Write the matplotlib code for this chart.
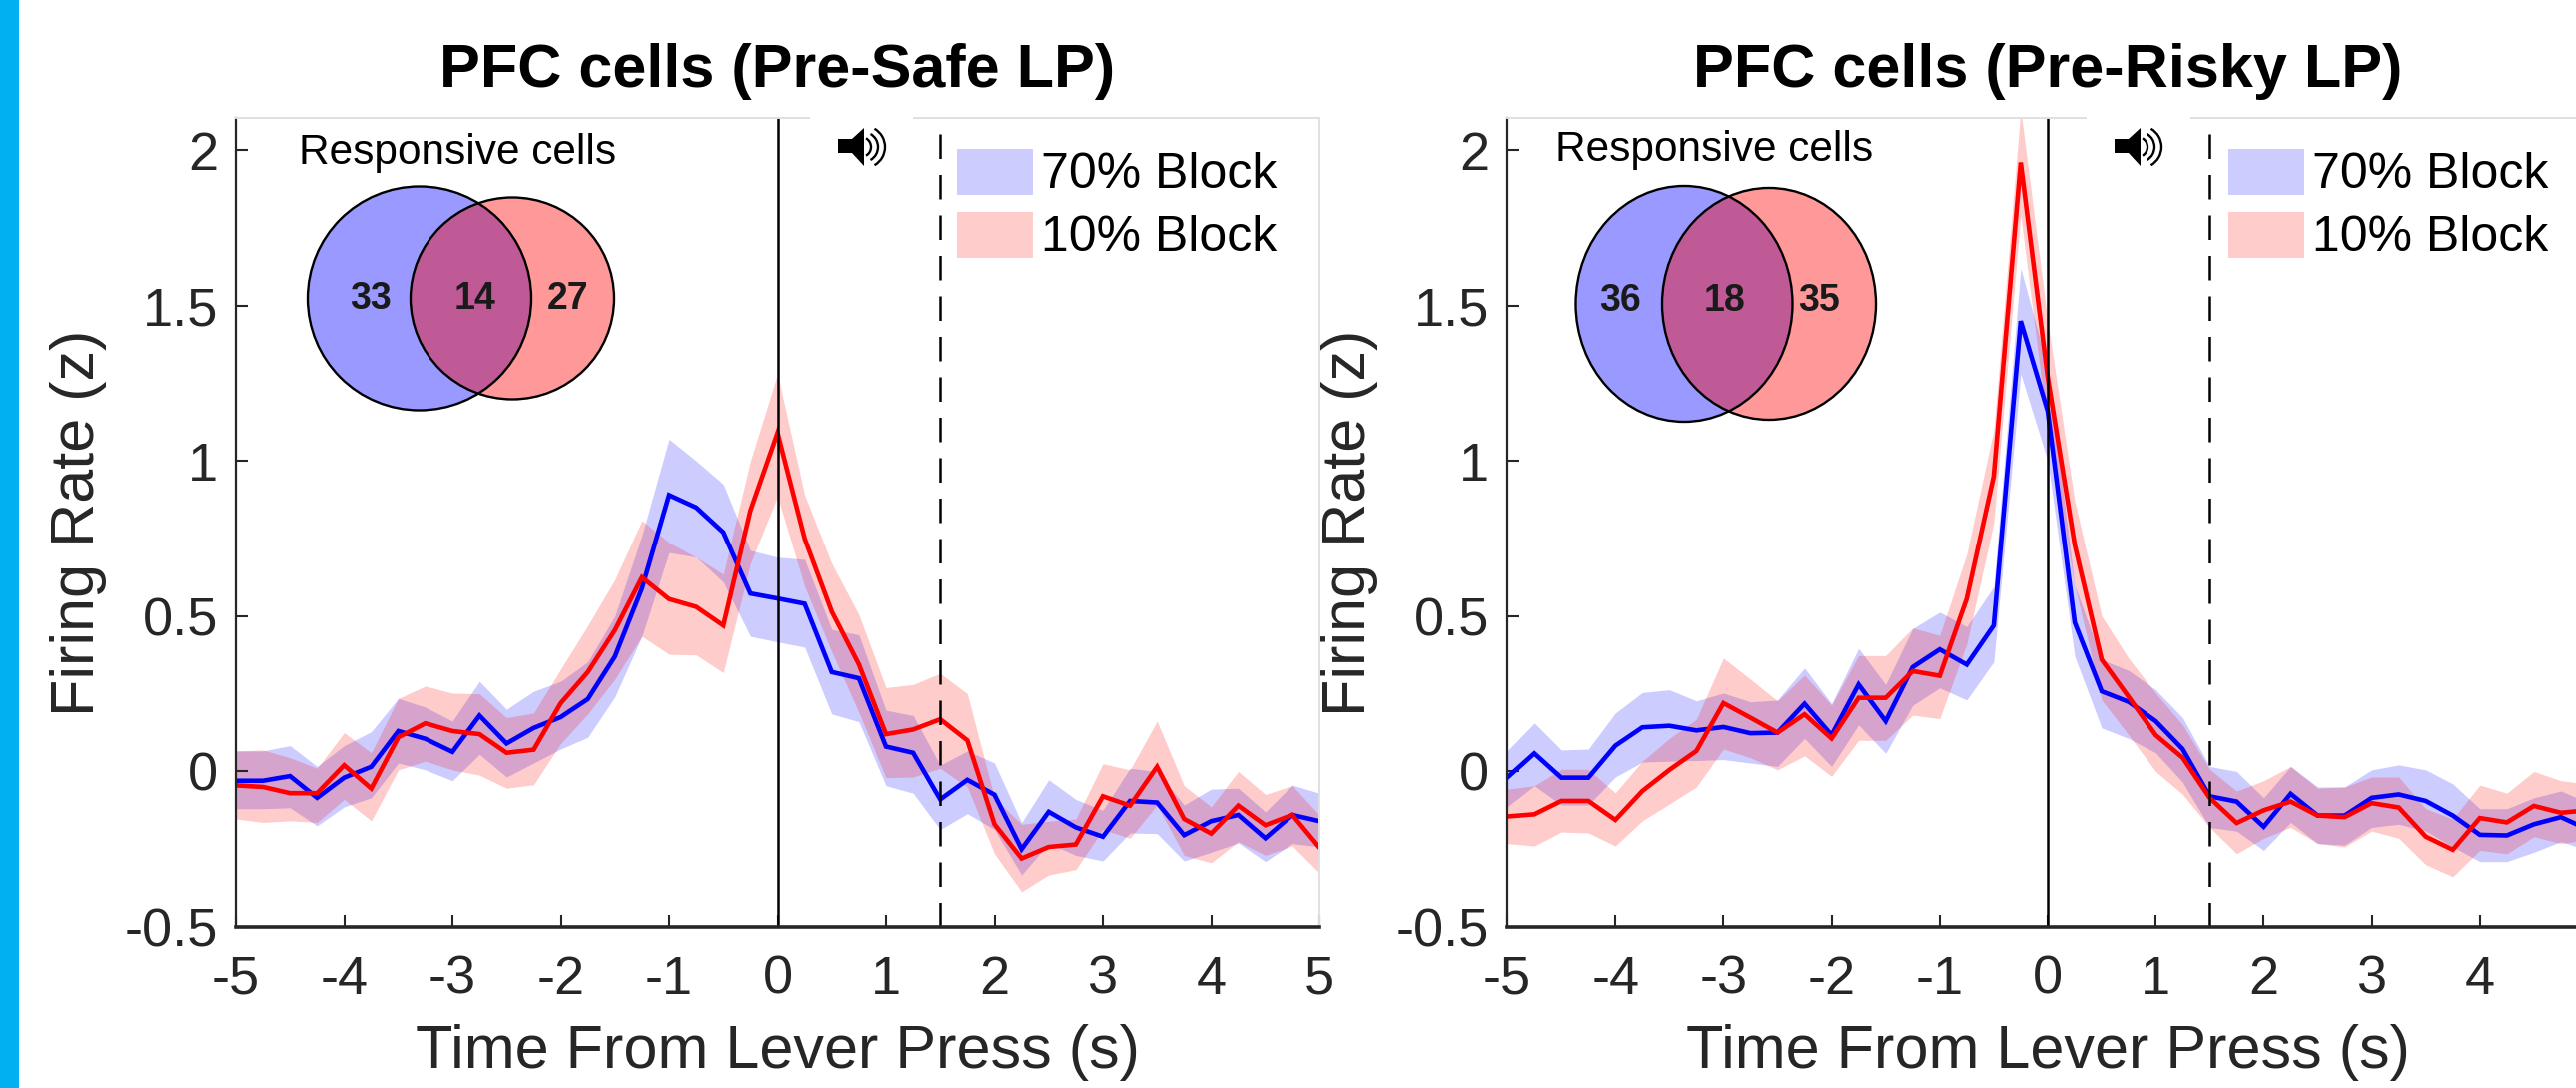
import numpy as np
import matplotlib
matplotlib.use('Agg')
import matplotlib.pyplot as plt
from matplotlib.patches import Ellipse, Rectangle, Polygon, Arc

plt.rcParams['font.family'] = ['Liberation Sans', 'DejaVu Sans']
plt.rcParams['axes.unicode_minus'] = False

W, H = 2579, 1089
DARK = '#262626'

time = np.arange(41) * 0.25 - 5
yticks = [-0.5, 0, 0.5, 1, 1.5, 2]
ytick_labels = ['-0.5', '0', '0.5', '1', '1.5', '2']
xticks = [-5, -4, -3, -2, -1, 0, 1, 2, 3, 4, 5]
safe_xlabels = ['-5', '-4', '-3', '-2', '-1', '0', '1', '2', '3', '4', '5']
# the last label of the right panel falls off the picture
risky_xlabels = ['-5', '-4', '-3', '-2', '-1', '0', '1', '2', '3', '4', '']
block_labels = ['70% Block', '10% Block']

# left panel, pre-safe
safe_blue = [-0.03, -0.03, -0.015, -0.085, -0.02, 0.015, 0.13, 0.105, 0.063, 0.18, 0.09, 0.14, 0.175, 0.233,
             0.37, 0.59, 0.89, 0.85, 0.77, 0.573, 0.557, 0.54, 0.32, 0.30, 0.08, 0.06, -0.09, -0.027, -0.075,
             -0.25, -0.13, -0.18, -0.21, -0.095, -0.10, -0.205, -0.16, -0.14, -0.215, -0.14, -0.16]
safe_blue_up = [0.066, 0.066, 0.083, 0.016, 0.083, 0.128, 0.235, 0.207, 0.162, 0.29, 0.2, 0.258, 0.29, 0.353,
                0.5, 0.76, 1.07, 1.0, 0.925, 0.712, 0.69, 0.683, 0.457, 0.44, 0.197, 0.18, 0.02, 0.066, 0.027,
                -0.165, -0.027, -0.09, -0.125, 0.01, 0.0, -0.108, -0.057, -0.054, -0.13, -0.044, -0.07]
safe_blue_lo = [-0.12, -0.12, -0.117, -0.175, -0.114, -0.085, 0.027, 0.005, -0.03, 0.055, -0.018, 0.027, 0.072,
                0.11, 0.24, 0.435, 0.705, 0.69, 0.61, 0.435, 0.417, 0.4, 0.185, 0.16, -0.046, -0.07, -0.187,
                -0.136, -0.187, -0.333, -0.232, -0.27, -0.288, -0.198, -0.2, -0.288, -0.26, -0.23, -0.29, -0.232,
                -0.243]
safe_red = [-0.045, -0.05, -0.07, -0.07, 0.02, -0.055, 0.11, 0.155, 0.13, 0.12, 0.06, 0.07, 0.22, 0.32, 0.455,
            0.625, 0.555, 0.53, 0.47, 0.84, 1.09, 0.75, 0.515, 0.345, 0.12, 0.135, 0.168, 0.10, -0.17, -0.28,
            -0.243, -0.235, -0.08, -0.11, 0.015, -0.153, -0.2, -0.11, -0.173, -0.14, -0.245]
safe_red_up = [0.066, 0.069, 0.044, 0.01, 0.125, 0.06, 0.235, 0.275, 0.252, 0.25, 0.173, 0.188, 0.33, 0.47, 0.618,
               0.808, 0.737, 0.69, 0.635, 1.0, 1.28, 0.89, 0.67, 0.505, 0.27, 0.28, 0.316, 0.25, -0.085, -0.17,
               -0.16, -0.153, 0.025, 0.005, 0.162, -0.046, -0.114, 0.0, -0.074, -0.046, -0.14]
safe_red_lo = [-0.153, -0.164, -0.159, -0.164, -0.09, -0.159, 0.005, 0.033, 0.005, -0.012, -0.054, -0.043, 0.09,
               0.185, 0.297, 0.435, 0.377, 0.375, 0.318, 0.67, 0.885, 0.596, 0.385, 0.19, -0.02, -0.018, 0.01,
               -0.05, -0.265, -0.387, -0.333, -0.316, -0.187, -0.215, -0.108, -0.27, -0.294, -0.226, -0.27, -0.24,
               -0.327]

# right panel, pre-risky
risky_blue = [-0.02, 0.058, -0.02, -0.02, 0.083, 0.142, 0.147, 0.132, 0.143, 0.123, 0.125, 0.218, 0.117, 0.28,
              0.162, 0.336, 0.393, 0.344, 0.47, 1.45, 1.16, 0.48, 0.258, 0.224, 0.162, 0.072, -0.08, -0.097,
              -0.178, -0.072, -0.142, -0.142, -0.085, -0.074, -0.095, -0.142, -0.204, -0.206, -0.17, -0.147, -0.187]
risky_blue_up = [0.066, 0.156, 0.069, 0.072, 0.188, 0.254, 0.263, 0.227, 0.252, 0.224, 0.23, 0.333, 0.218, 0.396,
                 0.28, 0.46, 0.513, 0.466, 0.595, 1.62, 1.3, 0.6, 0.36, 0.325, 0.263, 0.173, 0.016, 0.0, -0.085,
                 0.016, -0.05, -0.05, 0.005, 0.021, 0.005, -0.04, -0.12, -0.12, -0.085, -0.063, -0.10]
risky_blue_lo = [-0.114, -0.046, -0.108, -0.108, -0.018, 0.03, 0.033, 0.035, 0.038, 0.027, 0.016, 0.106, 0.016,
                 0.15, 0.058, 0.213, 0.269, 0.23, 0.353, 1.28, 1.0, 0.37, 0.14, 0.106, 0.06, -0.035, -0.18, -0.192,
                 -0.254, -0.164, -0.232, -0.237, -0.18, -0.17, -0.192, -0.243, -0.29, -0.29, -0.26, -0.226, -0.254]
risky_red = [-0.145, -0.138, -0.095, -0.095, -0.156, -0.063, 0.005, 0.066, 0.22, 0.173, 0.125, 0.184, 0.106, 0.237,
             0.237, 0.323, 0.308, 0.556, 0.95, 1.96, 1.27, 0.73, 0.36, 0.24, 0.117, 0.044, -0.085, -0.166, -0.125,
             -0.097, -0.142, -0.147, -0.102, -0.116, -0.21, -0.252, -0.15, -0.164, -0.111, -0.133, -0.125]
risky_red_up = [-0.057, -0.046, 0.007, 0.007, -0.069, 0.033, 0.106, 0.168, 0.365, 0.297, 0.227, 0.31, 0.213, 0.373,
                0.373, 0.462, 0.438, 0.70, 1.1, 2.13, 1.45, 0.87, 0.5, 0.364, 0.252, 0.15, 0.007, -0.063, -0.03,
                0.016, -0.054, -0.05, -0.018, -0.018, -0.12, -0.153, -0.044, -0.07, 0.0, -0.03, -0.04]
risky_red_lo = [-0.232, -0.24, -0.195, -0.198, -0.24, -0.159, -0.105, -0.05, 0.072, 0.044, 0.005, 0.05, -0.016, 0.10,
                0.10, 0.181, 0.17, 0.41, 0.8, 1.79, 1.1, 0.6, 0.23, 0.117, 0.0, -0.074, -0.18, -0.265, -0.215,
                -0.18, -0.232, -0.243, -0.192, -0.215, -0.3, -0.339, -0.254, -0.265, -0.21, -0.232, -0.22]

safe_counts = [33, 14, 27]
risky_counts = [36, 18, 35]


def draw_panel(rect, title, xlabels, blue, blue_up, blue_lo, red, red_up, red_lo):
    ax = fig.add_axes([rect[0] / W, 1 - rect[3] / H, (rect[2] - rect[0]) / W, (rect[3] - rect[1]) / H])
    ax.fill_between(time, blue_lo, blue_up, color='#0000ff', alpha=0.2, lw=0)
    ax.fill_between(time, red_lo, red_up, color='#ff0000', alpha=0.2, lw=0)
    ax.plot(time, blue, color='#0000ff', lw=3.3, solid_joinstyle='miter')
    ax.plot(time, red, color='#ff0000', lw=3.3, solid_joinstyle='miter')
    ax.axvline(0, color='black', lw=1.8)
    ax.plot([1.5, 1.5], [-0.5, 2.06], color='black', lw=1.8, dashes=(9.8, 6.4))
    ax.set_xlim(-5, 5)
    ax.set_ylim(-0.5, 2.103)
    ax.set_xticks(xticks)
    ax.set_xticklabels(xlabels)
    ax.set_yticks(yticks)
    ax.set_yticklabels(ytick_labels)
    ax.tick_params(direction='in', length=8.5, width=1.5, color=DARK, labelcolor=DARK, labelsize=39)
    ax.tick_params(axis='x', pad=20)
    ax.tick_params(axis='y', pad=13)
    for s in ['top', 'right']:
        ax.spines[s].set_color('#e0e0e0')
        ax.spines[s].set_linewidth(1.4)
    ax.spines['left'].set_color(DARK)
    ax.spines['left'].set_linewidth(1.6)
    ax.spines['bottom'].set_color(DARK)
    ax.spines['bottom'].set_linewidth(2.6)
    ax.set_xlabel('Time From Lever Press (s)', fontsize=44, color=DARK, labelpad=14)
    ax.set_ylabel('Firing Rate (z)', fontsize=44, color=DARK, labelpad=13)
    ax.set_title(title, fontsize=44, fontweight='bold', color='black', pad=22)
    return ax


def draw_venn(ov, blue_c, blue_r, red_c, red_r, counts, text_x, text_y):
    b = Ellipse(blue_c, blue_r[0] * 2, blue_r[1] * 2, fc='#9999ff', ec='none')
    r = Ellipse(red_c, red_r[0] * 2, red_r[1] * 2, fc='#ff9999', ec='none')
    ov.add_patch(b)
    ov.add_patch(r)
    both = Ellipse(blue_c, blue_r[0] * 2, blue_r[1] * 2, fc='#c05a96', ec='none')
    ov.add_patch(both)
    both.set_clip_path(r)
    ov.add_patch(Ellipse(blue_c, blue_r[0] * 2, blue_r[1] * 2, fc='none', ec='black', lw=1.7))
    ov.add_patch(Ellipse(red_c, red_r[0] * 2, red_r[1] * 2, fc='none', ec='black', lw=1.7))
    for x, c in zip(text_x, counts):
        ov.text(x, text_y, str(c), ha='center', va='center', fontsize=27, fontweight='bold', color='#1a1a1a')


def draw_speaker(ov, x, y):
    ov.add_patch(Polygon([(x, y + 11), (x + 14, y + 11), (x + 26, y), (x + 26, y + 38),
                          (x + 14, y + 25), (x, y + 25)], fc='black', ec='none'))
    for right, s in zip([33, 40, 47], [20, 30, 42]):
        ov.add_patch(Arc((x + right - s / 2, y + 19), s, s, theta1=-60, theta2=60, color='black', lw=1.7))


def draw_legend(ov, x, tx):
    ov.add_patch(Rectangle((x, 149), 76, 46, fc='#ccccff', ec='none'))
    ov.add_patch(Rectangle((x, 212), 76, 46, fc='#ffcccc', ec='none'))
    ov.text(tx, 175, block_labels[0], fontsize=36, va='center', color='black')
    ov.text(tx, 238, block_labels[1], fontsize=36, va='center', color='black')


fig = plt.figure(figsize=(W / 100, H / 100), dpi=100)

draw_panel((236, 118, 1321, 928), 'PFC cells (Pre-Safe LP)', safe_xlabels,
           safe_blue, safe_blue_up, safe_blue_lo, safe_red, safe_red_up, safe_red_lo)
draw_panel((1509, 118, 2591, 928), 'PFC cells (Pre-Risky LP)', risky_xlabels,
           risky_blue, risky_blue_up, risky_blue_lo, risky_red, risky_red_up, risky_red_lo)

# overlay in pixel coordinates for the inset drawings
ov = fig.add_axes([0, 0, 1, 1], facecolor='none')
ov.set_xlim(0, W)
ov.set_ylim(H, 0)
ov.axis('off')

ov.add_patch(Rectangle((0, 0), 19, H, fc='#00b0f0', ec='none'))
ov.add_patch(Rectangle((811, 114), 103, 8, fc='white', ec='none'))
ov.add_patch(Rectangle((2089, 114), 104, 8, fc='white', ec='none'))

ov.text(458, 153, 'Responsive cells', fontsize=30.5, ha='center', va='center', color='black')
ov.text(1716, 150, 'Responsive cells', fontsize=30.5, ha='center', va='center', color='black')

draw_venn(ov, (420, 298.5), (112, 112), (513, 298.5), (102, 101), safe_counts, [371, 476, 569], 299)
draw_venn(ov, (1686, 304), (108.5, 118), (1771, 304), (107, 116), risky_counts, [1622, 1727, 1821], 301)

draw_speaker(ov, 839, 128)
draw_speaker(ov, 2117, 128)
draw_legend(ov, 958, 1042)
draw_legend(ov, 2231, 2315)

fig.savefig('out.png', dpi=100)
plt.close(fig)
